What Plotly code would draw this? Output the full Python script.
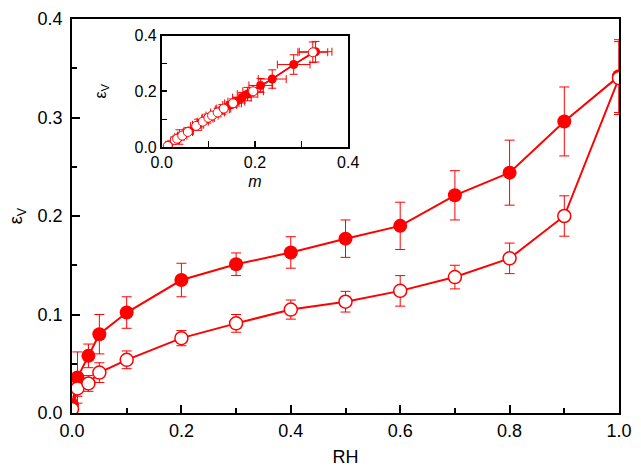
import plotly.graph_objects as go

# Main panel data
rh = [0.0, 0.01, 0.03, 0.05, 0.1, 0.2, 0.3, 0.4, 0.5, 0.6, 0.7, 0.8, 0.9, 1.0]
ev_filled = [0.008, 0.036, 0.058, 0.080, 0.102, 0.135, 0.151, 0.163, 0.177, 0.190, 0.221, 0.244, 0.296, 0.342]
err_filled = [0.006, 0.026, 0.012, 0.020, 0.016, 0.017, 0.0115, 0.016, 0.019, 0.024, 0.025, 0.033, 0.035, 0.037]
ev_open = [0.004, 0.025, 0.030, 0.041, 0.054, 0.076, 0.091, 0.105, 0.113, 0.124, 0.138, 0.157, 0.200, 0.340]
err_open = [0.004, 0.008, 0.008, 0.010, 0.009, 0.0077, 0.009, 0.0097, 0.0105, 0.0155, 0.012, 0.0155, 0.0205, 0.037]

# Inset data (strain vs m)
m_filled = [0.015, 0.038, 0.058, 0.078, 0.098, 0.130, 0.146, 0.160, 0.172, 0.184, 0.212, 0.237, 0.283, 0.330]
m_filled_err = [0.006, 0.010, 0.010, 0.012, 0.012, 0.015, 0.015, 0.018, 0.020, 0.022, 0.025, 0.030, 0.035, 0.035]
m_open = [0.013, 0.028, 0.033, 0.044, 0.056, 0.074, 0.088, 0.100, 0.108, 0.120, 0.133, 0.153, 0.196, 0.324]
m_open_err = [0.005, 0.008, 0.008, 0.010, 0.010, 0.012, 0.012, 0.013, 0.013, 0.015, 0.015, 0.018, 0.022, 0.032]

RED = "#ff0000"
FONT = "Liberation Sans, Arial, Helvetica, sans-serif"

fig = go.Figure()

fig.add_trace(go.Scatter(
    x=rh, y=ev_filled, mode="lines+markers",
    line=dict(color=RED, width=2),
    marker=dict(color=RED, size=14, line=dict(width=0)),
    error_y=dict(type="data", array=err_filled, color=RED, thickness=1, width=5),
    xaxis="x", yaxis="y", showlegend=False, hoverinfo="skip"))
fig.add_trace(go.Scatter(
    x=rh, y=ev_open, mode="lines+markers",
    line=dict(color=RED, width=2),
    marker=dict(color="white", size=13, line=dict(color=RED, width=1.5)),
    error_y=dict(type="data", array=err_open, color=RED, thickness=1, width=5),
    xaxis="x", yaxis="y", showlegend=False, hoverinfo="skip"))

fig.add_trace(go.Scatter(
    x=m_filled, y=ev_filled, mode="lines+markers",
    line=dict(color=RED, width=1.5),
    marker=dict(color=RED, size=9, line=dict(width=0)),
    error_y=dict(type="data", array=err_filled, color=RED, thickness=1, width=4),
    error_x=dict(type="data", array=m_filled_err, color=RED, thickness=1, width=4),
    xaxis="x2", yaxis="y2", showlegend=False, hoverinfo="skip"))
fig.add_trace(go.Scatter(
    x=m_open, y=ev_open, mode="lines+markers",
    line=dict(color=RED, width=1.5),
    marker=dict(color="white", size=9, line=dict(color=RED, width=1)),
    error_y=dict(type="data", array=err_open, color=RED, thickness=1, width=4),
    error_x=dict(type="data", array=m_open_err, color=RED, thickness=1, width=4),
    xaxis="x2", yaxis="y2", showlegend=False, hoverinfo="skip"))

axis_common = dict(
    showline=True, linecolor="black", linewidth=1.5, mirror=True,
    ticks="inside", tickcolor="black", tickwidth=1.5,
    showgrid=False, zeroline=False, tickformat=".1f",
)

fig.update_layout(
    width=641, height=473,
    margin=dict(l=72, r=15, t=9, b=58),
    paper_bgcolor="white", plot_bgcolor="white",
    font=dict(family=FONT, color="black", size=18),
    xaxis=dict(domain=[0, 1], range=[0, 1], tick0=0, dtick=0.2, ticklen=8,
               minor=dict(dtick=0.1, ticks="inside", ticklen=5, tickcolor="black", tickwidth=1.5),
               title=dict(text="RH", font=dict(size=18), standoff=10),
               tickfont=dict(size=18), ticklabelstandoff=1, **axis_common),
    yaxis=dict(domain=[0, 1], range=[0, 0.4], tick0=0, dtick=0.1, ticklen=8,
               minor=dict(dtick=0.05, ticks="inside", ticklen=5, tickcolor="black", tickwidth=1.5),
               title=dict(text="ε<sub>V</sub>", font=dict(size=18), standoff=10),
               tickfont=dict(size=18), ticklabelstandoff=4, **axis_common),
    xaxis2=dict(domain=[0.164, 0.505], range=[0, 0.4], tick0=0, dtick=0.2, ticklen=6,
                minor=dict(dtick=0.1, ticks="inside", ticklen=6, tickcolor="black", tickwidth=1.2),
                anchor="y2",
                title=dict(text="<i>m</i>", font=dict(size=16), standoff=6),
                tickfont=dict(size=16), **axis_common),
    yaxis2=dict(domain=[0.675, 0.958], range=[0, 0.4], tick0=0, dtick=0.2, ticklen=6,
                minor=dict(dtick=0.1, ticks="inside", ticklen=6, tickcolor="black", tickwidth=1.2),
                anchor="x2",
                title=dict(text="ε<sub>V</sub>", font=dict(size=16), standoff=24),
                tickfont=dict(size=16), **axis_common),
)

# remove the browser's default 8px body margin so the figure fills the window
fig.write_html("out.html", config={"displayModeBar": False},
               post_script="document.body.style.margin='0';")
